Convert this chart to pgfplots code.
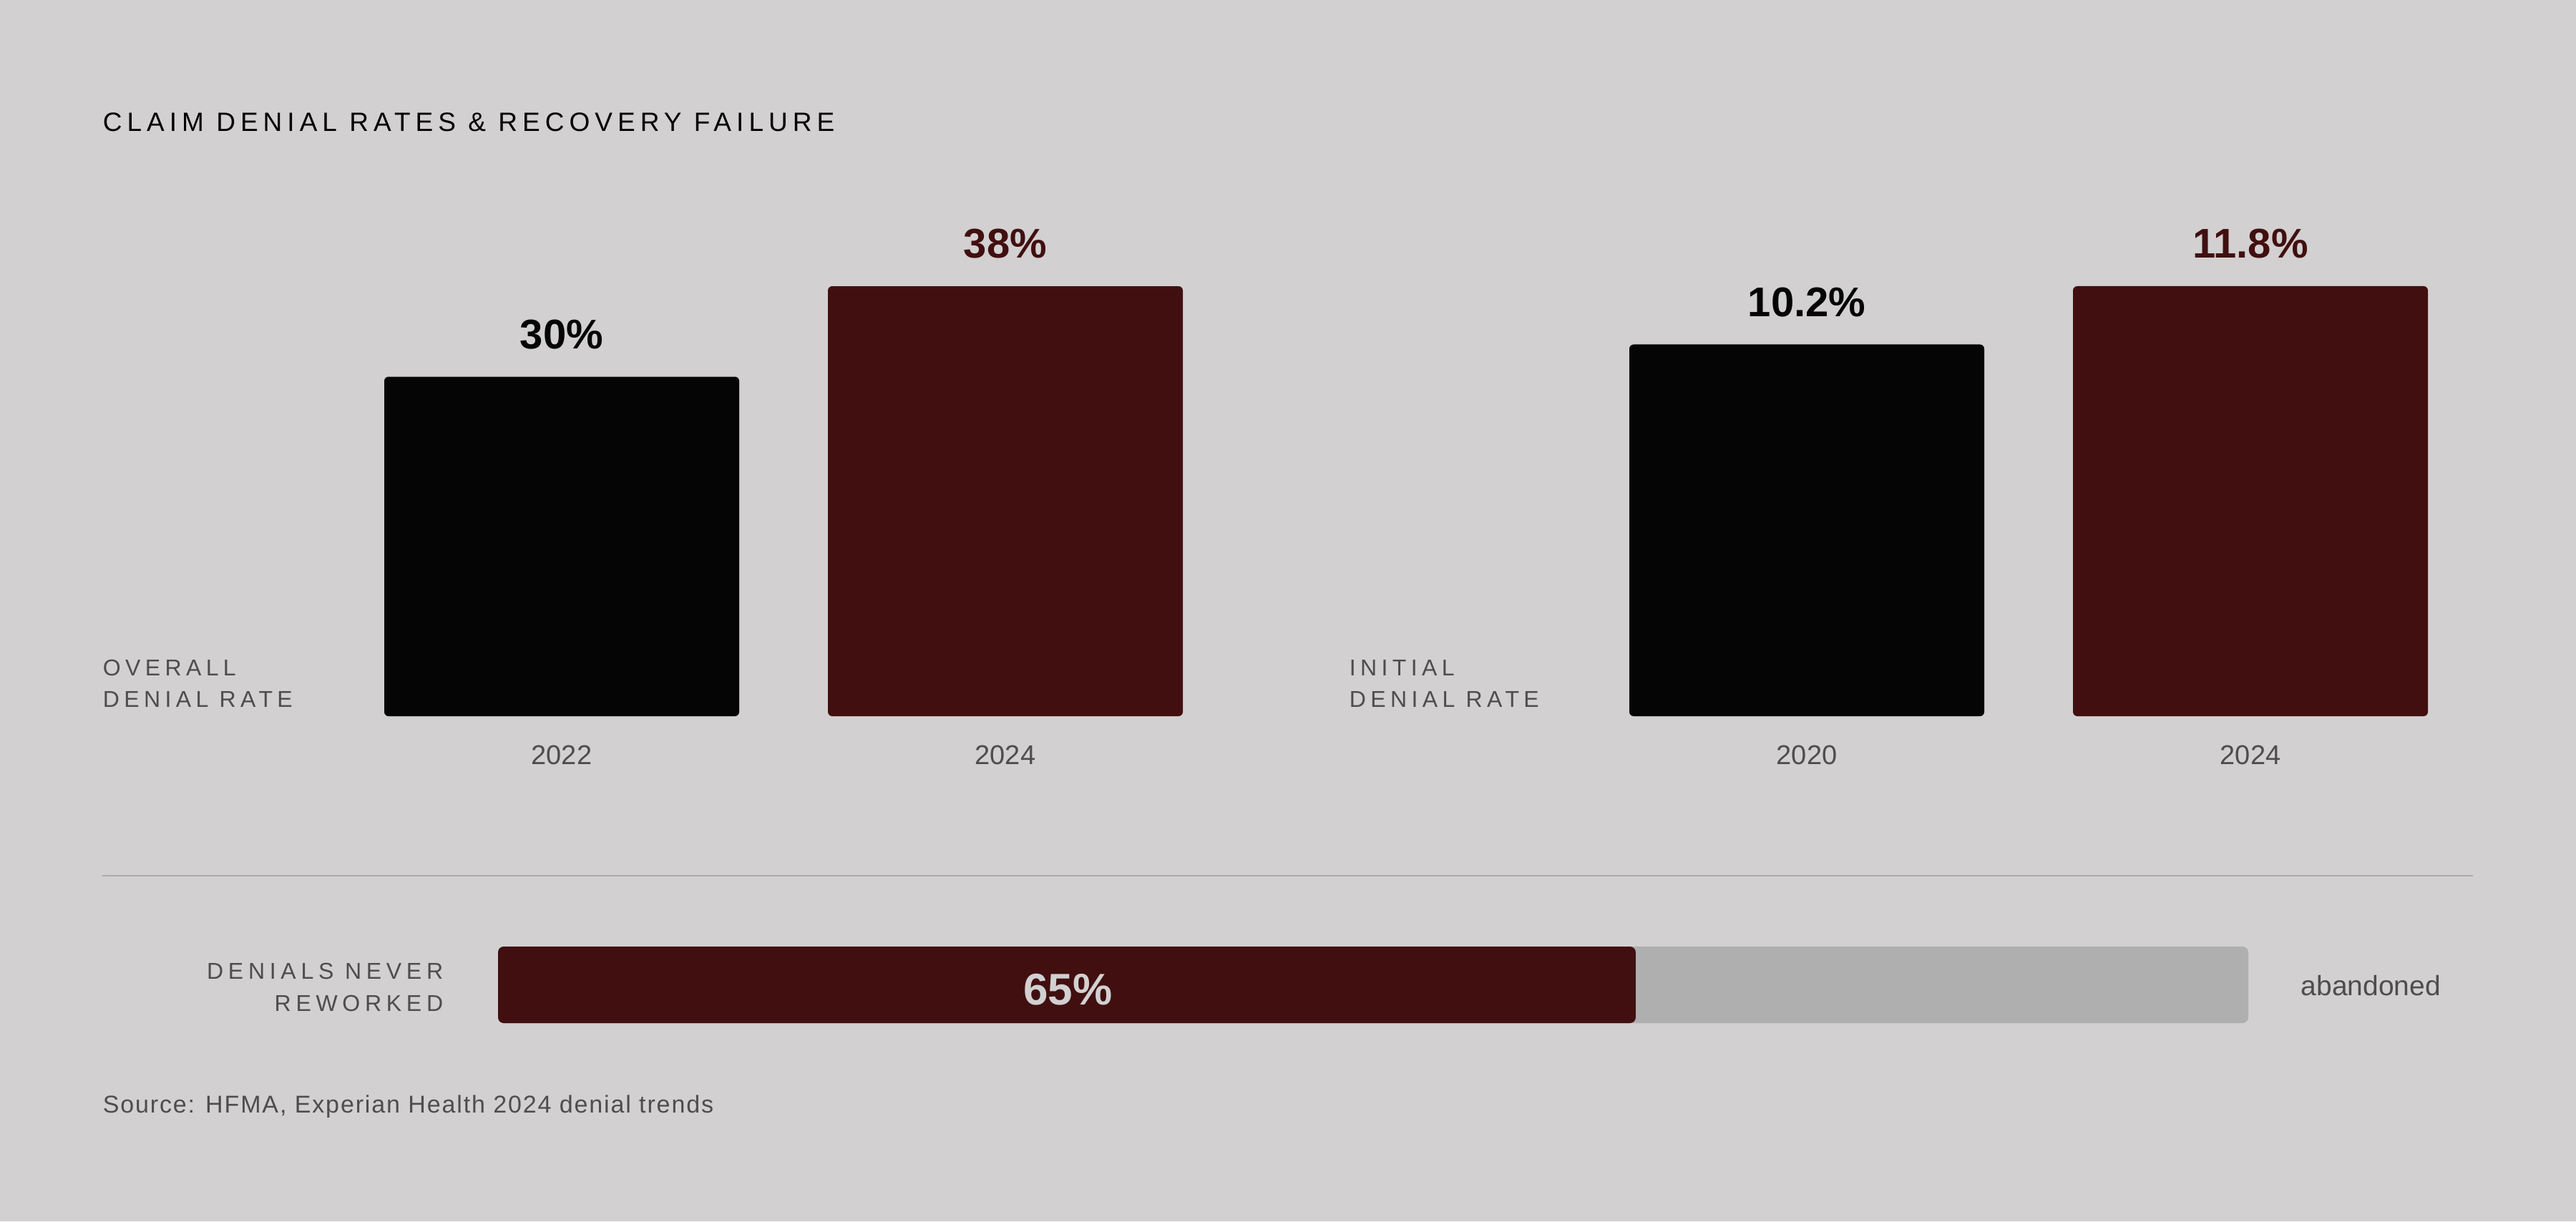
\documentclass[border=0pt]{standalone}
\usepackage{fontspec}
\setmainfont{Liberation Sans}
\usepackage{pgfplots}
\pgfplotsset{compat=1.18}
\definecolor{bg}{HTML}{D2D0D1}
\definecolor{barblack}{HTML}{050505}
\definecolor{barred}{HTML}{410F10}
\definecolor{track}{HTML}{AFAFAF}
\definecolor{lbl}{HTML}{4E4D4E}
\definecolor{rulec}{HTML}{ABA9AA}
\newcommand{\fs}[1]{\fontsize{#1}{#1}\selectfont}
\newcommand{\trk}[1]{\addfontfeatures{LetterSpace=#1}}
\pgfplotsset{
  panel/.style={
    anchor=south west, scale only axis, width=310pt, height=150.25pt,
    xmin=-0.5, xmax=1.5, ymin=0,
    axis line style={draw=none}, ytick=\empty,
    xtick={0,1}, major tick length=0pt,
    xticklabel style={font=\fs{9.5pt}, text=lbl, anchor=base, inner sep=0pt, yshift=-16.75pt},
    clip=false,
    point meta=explicit symbolic, nodes near coords,
    every node near coord/.append style={font=\bfseries\fs{14.5pt}, inner sep=0pt, yshift=9.5pt},
  },
  vbar/.style={ybar, bar width=0.8, bar shift=0pt, fill=#1, draw=none, rounded corners=1.5pt,
    every node near coord/.append style={text=#1}},
}
\begin{document}
\begin{tikzpicture}
\fill[bg] (0,0) rectangle (900pt,426.75pt);
% title
\node[anchor=base west, inner sep=0pt, text=black] at (35.75pt,380.75pt)
  {\fs{9.25pt}\trk{19}CLAIM DENIAL RATES \& RECOVERY FAILURE};
% panel labels
\node[anchor=base west, inner sep=0pt, text=lbl] at (35.75pt,190.75pt) {\fs{8pt}\trk{20}OVERALL};
\node[anchor=base west, inner sep=0pt, text=lbl] at (35.75pt,179.75pt) {\fs{8pt}\trk{20}DENIAL RATE};
\node[anchor=base west, inner sep=0pt, text=lbl] at (471.25pt,190.75pt) {\fs{8pt}\trk{20}INITIAL};
\node[anchor=base west, inner sep=0pt, text=lbl] at (471.25pt,179.75pt) {\fs{8pt}\trk{20}DENIAL RATE};

\begin{axis}[panel, at={(118.75pt,176.5pt)}, ymax=38, xticklabels={2022,2024}]
\addplot[vbar=barblack] coordinates {(0,30) [30\%]};
\addplot[vbar=barred] coordinates {(1,38) [38\%]};
\end{axis}

\begin{axis}[panel, at={(553.75pt,176.5pt)}, ymax=11.8, xticklabels={2020,2024}]
\addplot[vbar=barblack] coordinates {(0,10.2) [10.2\%]};
\addplot[vbar=barred] coordinates {(1,11.8) [11.8\%]};
\end{axis}

% divider
\draw[rulec, line width=0.6pt] (35.75pt,120.75pt) -- (864pt,120.75pt);

% bottom bar labels
\node[anchor=base east, inner sep=0pt, text=lbl] at (155pt,84.75pt) {\fs{8pt}\trk{21}DENIALS NEVER};
\node[anchor=base east, inner sep=0pt, text=lbl] at (155pt,73.5pt) {\fs{8pt}\trk{21}REWORKED};
\node[anchor=base west, inner sep=0pt, text=lbl] at (803.75pt,79pt) {\fs{9.75pt}abandoned};

\begin{axis}[at={(174pt,69.25pt)}, anchor=south west, scale only axis, width=611.5pt, height=26.75pt,
  xmin=0, xmax=100, ymin=-0.5, ymax=0.5, hide axis, clip=false]
\addplot[xbar, bar width=1, bar shift=0pt, fill=track, draw=none, rounded corners=2pt] coordinates {(100,0)};
\addplot[xbar, bar width=1, bar shift=0pt, fill=barred, draw=none, rounded corners=2pt] coordinates {(65,0)};
\node[anchor=base, inner sep=0pt, text=bg, font=\bfseries\fs{15.5pt}] at (axis cs:32.55,-0.257) {65\%};
\end{axis}

% source
\node[anchor=base west, inner sep=0pt, text=lbl] at (35.75pt,38pt) {\fs{8.5pt}\trk{5.5}Source: HFMA, Experian Health 2024 denial trends};
\end{tikzpicture}
\end{document}
